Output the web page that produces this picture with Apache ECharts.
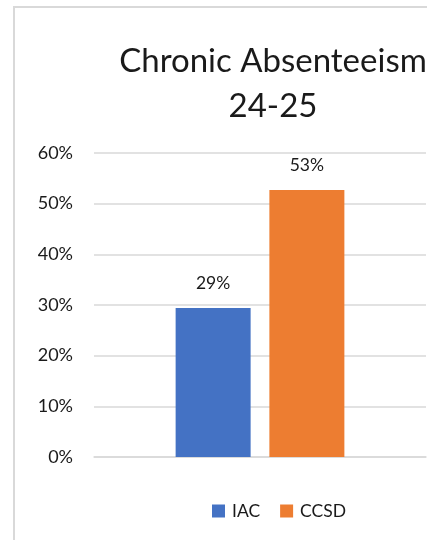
<!DOCTYPE html>
<html><head><meta charset="utf-8">
<script src="https://cdn.jsdelivr.net/npm/echarts@6/dist/echarts.min.js"></script>
<style>html,body{margin:0;padding:0;background:#fff}#c{width:444px;height:540px}</style>
</head><body><div id="c"></div>
<script>
const categories = ['Chronic Absenteeism'];
const seriesNames = ['IAC', 'CCSD'];
const iacValues = [0.294];
const ccsdValues = [0.527];
const yTicks = [0, 0.1, 0.2, 0.3, 0.4, 0.5, 0.6];
const colors = ['#4472C4', '#ED7D31'];
const font = 'Lato, "Open Sans", sans-serif';
const chart = echarts.init(document.getElementById('c'), null, {renderer: 'canvas'});
const pct = v => Math.round(v * 100) + '%';
chart.setOption({
  animation: false,
  backgroundColor: '#fff',
  graphic: [{type: 'polyline', shape: {points: [[14, 540], [14, 7], [427, 7]]}, style: {stroke: '#d9d9d9', lineWidth: 2, fill: null}}],
  title: {text: 'Chronic Absenteeism\n24-25', left: 268, textAlign: 'center', top: 34,
    textStyle: {fontFamily: font, fontSize: 33, fontWeight: 'normal', color: '#1a1a1a', lineHeight: 45}},
  grid: {left: 94, right: 18, top: 153, bottom: 83, containLabel: false},
  legend: {bottom: 15, left: 207, itemWidth: 13, itemHeight: 13, itemGap: 20, icon: 'rect',
    textStyle: {fontFamily: font, fontSize: 17.5, color: '#1a1a1a', padding: [0, 0, 0, 2]}, data: seriesNames},
  xAxis: {type: 'category', data: categories, axisLine: {lineStyle: {color: '#d9d9d9', width: 1.5}}, axisTick: {show: false}, axisLabel: {show: false}},
  yAxis: {type: 'value', min: 0, max: 0.6, interval: 0.1,
    axisLine: {show: false}, axisTick: {show: false},
    splitLine: {lineStyle: {color: '#d9d9d9', width: 1.5}},
    axisLabel: {fontFamily: font, fontSize: 18, color: '#1a1a1a', margin: 21, formatter: v => pct(v)}},
  series: [
    {name: seriesNames[0], type: 'bar', data: iacValues, barWidth: 75, barGap: '25%', itemStyle: {color: colors[0]},
      label: {show: true, position: 'top', distance: 16, fontFamily: font, fontSize: 17.5, color: '#1a1a1a', formatter: p => pct(p.value)}},
    {name: seriesNames[1], type: 'bar', data: ccsdValues, barWidth: 75, itemStyle: {color: colors[1]},
      label: {show: true, position: 'top', distance: 16, fontFamily: font, fontSize: 17.5, color: '#1a1a1a', formatter: p => pct(p.value)}}
  ]
});
</script></body></html>
